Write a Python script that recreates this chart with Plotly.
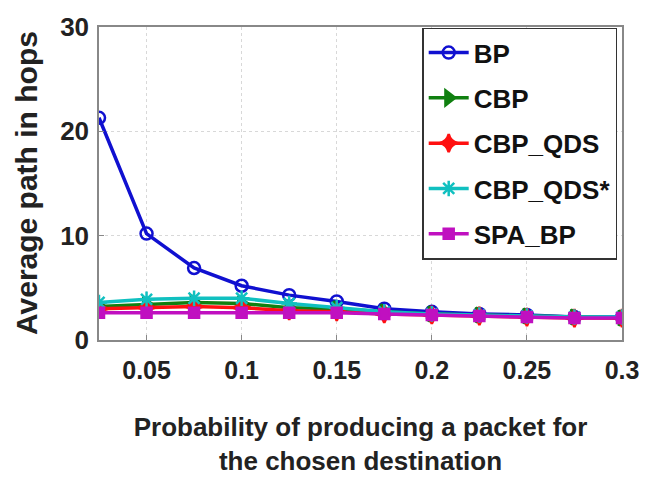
import plotly.graph_objects as go

x_vals = [0.025, 0.05, 0.075, 0.1, 0.125, 0.15, 0.175, 0.2, 0.225, 0.25, 0.275, 0.3]
bp = [21.3, 10.2, 6.9, 5.2, 4.3, 3.7, 3.0, 2.7, 2.5, 2.4, 2.2, 2.2]
cbp = [3.2, 3.4, 3.6, 3.5, 3.1, 3.0, 2.7, 2.5, 2.4, 2.3, 2.2, 2.1]
cbp_qds = [3.0, 3.1, 3.2, 3.1, 2.8, 2.7, 2.5, 2.4, 2.3, 2.2, 2.1, 2.1]
cbp_qds_star = [3.6, 3.9, 4.0, 4.0, 3.5, 3.1, 2.7, 2.5, 2.4, 2.3, 2.2, 2.2]
spa_bp = [2.6, 2.6, 2.6, 2.6, 2.6, 2.6, 2.5, 2.4, 2.3, 2.2, 2.1, 2.1]

x_ticks = [0.05, 0.1, 0.15, 0.2, 0.25, 0.3]
x_ticklabels = ["0.05", "0.1", "0.15", "0.2", "0.25", "0.3"]
y_ticks = [0, 10, 20, 30]

series = [
    ("BP", bp, "#1010d0", "circle-open", 12),
    ("CBP", cbp, "#108010", "triangle-right", 13),
    ("CBP_QDS", cbp_qds, "#ff1010", "star-diamond", 13),
    ("CBP_QDS*", cbp_qds_star, "#10c0c0", "asterisk-open", 13),
    ("SPA_BP", spa_bp, "#c010c0", "square", 10),
]

FONT = "Liberation Sans, Arial, sans-serif"
ML, MR, MT, MB = 99, 18, 22, 147
W, H = 651, 487
PW = W - ML - MR
PH = H - MT - MB

fig = go.Figure()
for i, (name, ys, color, sym, size) in enumerate(series):
    fig.add_trace(go.Scatter(
        x=x_vals, y=ys, name=name, mode="lines+markers",
        legendgroup=f"g{i}",
        line=dict(color=color, width=3.5),
        marker=dict(symbol=sym, size=size, color=color,
                    line=dict(color=color, width=2.5)),
    ))

fig.add_annotation(
    text="Average path in hops", textangle=-90,
    xref="paper", yref="paper", x=(25 - ML) / PW, y=0.5,
    xanchor="center", yanchor="middle", showarrow=False,
    font=dict(family=FONT, size=30, weight="bold", color="#222222"),
)

fig.update_layout(
    width=W, height=H,
    margin=dict(l=ML, r=MR, t=MT, b=MB),
    plot_bgcolor="white", paper_bgcolor="white",
    font=dict(family=FONT, size=22, color="#222222", weight="bold"),
    showlegend=True,
    legend=dict(
        x=(429 - ML) / PW, y=0.998, xanchor="left", yanchor="top",
        bgcolor="white", bordercolor="#333333", borderwidth=1.5,
        font=dict(family=FONT, size=26, color="#111111", weight="bold"),
        traceorder="grouped", tracegroupgap=8.5,
        itemwidth=40,
    ),
    xaxis=dict(
        range=[0.025, 0.3], tickvals=x_ticks, ticktext=x_ticklabels,
        showline=True, mirror=True, linecolor="#888888", linewidth=1.5,
        ticks="inside", ticklen=5, tickcolor="#888888",
        showgrid=True, gridcolor="#d8d8d8", griddash="dot", gridwidth=1,
        zeroline=False, ticklabelstandoff=7, ticklabeloverflow="allow",
        tickfont=dict(family=FONT, size=25, weight="bold", color="#222222"),
        title=dict(text="Probability of producing a packet for<br>the chosen destination",
                   font=dict(family=FONT, size=26, weight="bold", color="#222222"), standoff=35),
    ),
    yaxis=dict(
        range=[0, 30], tickvals=y_ticks,
        showline=True, mirror=True, linecolor="#888888", linewidth=1.5,
        ticks="inside", ticklen=5, tickcolor="#888888",
        showgrid=True, gridcolor="#d8d8d8", griddash="dot", gridwidth=1,
        zeroline=False, ticklabelstandoff=3,
        tickfont=dict(family=FONT, size=26, weight="bold", color="#222222"),
    ),
)

fig.write_html("out.html")
